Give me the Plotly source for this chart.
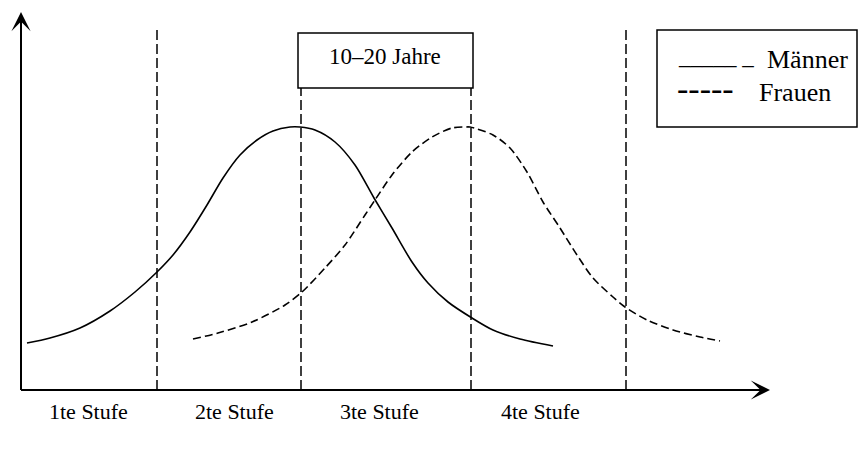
import plotly.graph_objects as go

# Data coordinates: origin at the axis corner
maenner_x = [6, 29, 59, 89, 114, 136, 152, 169, 186, 202, 219, 236, 252, 269, 279, 294, 314, 334, 353, 371, 391, 407, 427, 451, 472, 499, 532]
maenner_y = [47, 52, 62, 79, 98, 118, 135, 158, 185, 212, 235, 250, 259, 263, 263, 260, 248, 225, 192, 162, 128, 107, 88, 72, 60, 51, 44]

frauen_x = [172, 197, 231, 264, 281, 304, 324, 344, 354, 371, 391, 411, 431, 444, 449, 472, 489, 506, 522, 539, 556, 572, 592, 604, 626, 652, 679, 699]
frauen_y = [51, 57, 68, 85, 98, 122, 145, 175, 190, 215, 238, 253, 262, 263, 263, 255, 242, 218, 188, 162, 135, 112, 93, 83, 70, 60, 53, 49]

stage_bounds = [136, 280, 450, 605]
stage_labels = ["1te Stufe", "2te Stufe", "3te Stufe", "4te Stufe"]
stage_label_x = [67, 213, 358, 519]
age_label = "10–20 Jahre"
legend_labels = ["Männer", "Frauen"]

FONT = "Liberation Serif"

fig = go.Figure()
fig.add_trace(go.Scatter(x=maenner_x, y=maenner_y, mode="lines",
                         line=dict(color="black", width=1.6, shape="spline", smoothing=0.8),
                         name=legend_labels[0], hoverinfo="skip"))
fig.add_trace(go.Scatter(x=frauen_x, y=frauen_y, mode="lines",
                         line=dict(color="black", width=1.6, shape="spline", smoothing=0.8, dash="8px,4px"),
                         name=legend_labels[1], hoverinfo="skip"))

shapes = []
# dashed stage boundaries
for i, b in enumerate(stage_bounds):
    top = 360 if i in (0, 3) else 302
    shapes.append(dict(type="line", x0=b, x1=b, y0=0, y1=top, xref="x", yref="y",
                       line=dict(color="black", width=1.5, dash="10px,4px")))
# age box
shapes.append(dict(type="rect", x0=277, x1=452, y0=302, y1=357, xref="x", yref="y",
                   line=dict(color="black", width=1.5), fillcolor="white"))
# legend box
shapes.append(dict(type="rect", x0=636, x1=836, y0=263, y1=360, xref="x", yref="y",
                   line=dict(color="black", width=1.5), fillcolor="white"))
# axes lines
shapes.append(dict(type="line", x0=0, x1=0, y0=0, y1=370, xref="x", yref="y",
                   line=dict(color="black", width=2)))
shapes.append(dict(type="line", x0=0, x1=742, y0=0, y1=0, xref="x", yref="y",
                   line=dict(color="black", width=2)))

annotations = []
# arrow heads
annotations.append(dict(x=0, y=378, ax=0, ay=340, xref="x", yref="y", axref="x", ayref="y",
                        showarrow=True, arrowhead=3, arrowsize=1.6, arrowwidth=2, arrowcolor="black", text=""))
annotations.append(dict(x=749, y=0, ax=700, ay=0, xref="x", yref="y", axref="x", ayref="y",
                        showarrow=True, arrowhead=3, arrowsize=1.6, arrowwidth=2, arrowcolor="black", text=""))
# age box text
annotations.append(dict(x=364, y=334, xref="x", yref="y", text=age_label, showarrow=False,
                        font=dict(family=FONT, size=23, color="black")))
# legend text
annotations.append(dict(x=655, y=334, xref="x", yref="y", xanchor="left", text="_____ _",
                        showarrow=False, font=dict(family=FONT, size=23, color="black")))
annotations.append(dict(x=744, y=331, xref="x", yref="y", xanchor="left", text=legend_labels[0],
                        showarrow=False, font=dict(family=FONT, size=26, color="black")))
annotations.append(dict(x=654, y=302, xref="x", yref="y", xanchor="left", text="-----",
                        showarrow=False, font=dict(family=FONT, size=34, color="black")))
annotations.append(dict(x=736, y=298, xref="x", yref="y", xanchor="left", text=legend_labels[1],
                        showarrow=False, font=dict(family=FONT, size=26, color="black")))
# stage labels
for lx, lab in zip(stage_label_x, stage_labels):
    annotations.append(dict(x=lx, y=-21, xref="x", yref="y", text=lab, showarrow=False,
                            font=dict(family=FONT, size=22, color="black")))

fig.update_layout(
    width=859, height=450,
    margin=dict(l=0, r=0, t=0, b=0),
    paper_bgcolor="white", plot_bgcolor="white",
    showlegend=False,
    xaxis=dict(range=[-21, 838], visible=False, fixedrange=True),
    yaxis=dict(range=[-60, 390], visible=False, fixedrange=True),
    shapes=shapes, annotations=annotations,
)
fig.write_html("out.html", config={"displayModeBar": False},
               post_script="document.body.style.margin='0';document.body.style.overflow='hidden';")
